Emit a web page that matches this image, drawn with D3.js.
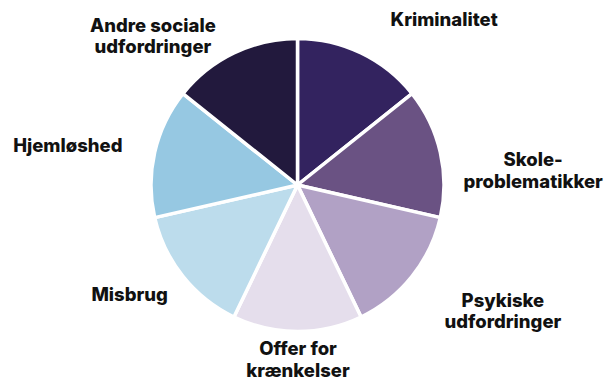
<!DOCTYPE html>
<html>
<head>
<meta charset="utf-8">
<script src="https://cdn.jsdelivr.net/npm/d3@7"></script>
<style>
  body { margin: 0; background: #fff; }
  svg { display: block; }
</style>
</head>
<body>
<svg id="chart"></svg>
<script>
// Kategorier (med uret fra kl. 12)
const categories = [
  ['Kriminalitet'],
  ['Skole-', 'problematikker'],
  ['Psykiske', 'udfordringer'],
  ['Offer for', 'krænkelser'],
  ['Misbrug'],
  ['Hjemløshed'],
  ['Andre sociale', 'udfordringer']
];
const values = [1, 1, 1, 1, 1, 1, 1];
const colors = ['#33235f', '#6a5283', '#b1a1c5', '#e5deec', '#bcdcec', '#96c8e2', '#22193d'];

const width = 608;
const height = 380;
const cx = 297.5, cy = 185, radius = 146.5;

// Justering af labels i forhold til midtpunktet på label-buen
const labelNudge = [[64, 12.5], [50, 23.5], [56.5, 3], [0.5, -20], [-19, -3], [-44, 9.5], [-62, 18.5]];

const svg = d3.select('#chart')
  .attr('width', width)
  .attr('height', height);

const g = svg.append('g')
  .attr('transform', `translate(${cx},${cy})`);

const pie = d3.pie().sort(null).value(d => d);
const arcs = pie(values);

const arc = d3.arc().innerRadius(0).outerRadius(radius);
const labelArc = d3.arc().innerRadius(radius * 1.3).outerRadius(radius * 1.3);

g.selectAll('path')
  .data(arcs)
  .enter()
  .append('path')
  .attr('d', arc)
  .attr('fill', (d, i) => colors[i])
  .attr('stroke', '#fff')
  .attr('stroke-width', 3.5)
  .attr('stroke-linejoin', 'round');

// Labels
arcs.forEach((d, i) => {
  const [x, y] = labelArc.centroid(d);
  const text = g.append('text')
    .attr('x', x + labelNudge[i][0])
    .attr('y', y + labelNudge[i][1])
    .attr('text-anchor', 'middle')
    .attr('font-family', 'Inter, sans-serif')
    .attr('font-weight', 800)
    .attr('font-size', '18.5px')
    .attr('fill', '#111');

  categories[i].forEach((line, j) => {
    text.append('tspan')
      .attr('x', x + labelNudge[i][0])
      .attr('dy', j === 0 ? 0 : 21.5)
      .text(line);
  });
});
</script>
</body>
</html>
